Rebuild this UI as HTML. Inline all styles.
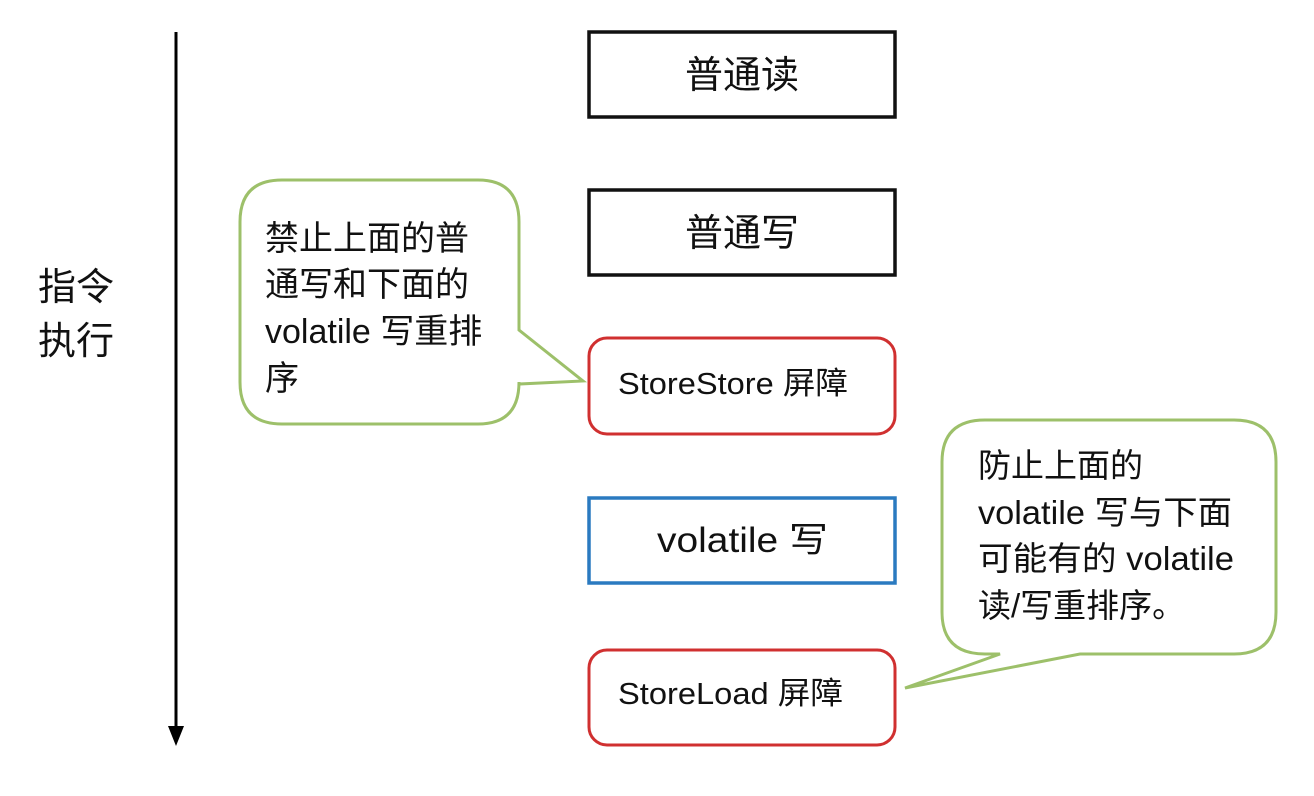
<!DOCTYPE html>
<html><head><meta charset="utf-8"><style>
body{margin:0;background:#fff;}
svg text{font-family:"Liberation Sans","Noto Sans CJK SC",sans-serif;fill:#111;}
</style></head><body>
<svg width="1314" height="791" xmlns="http://www.w3.org/2000/svg">
<line x1="176" y1="32" x2="176" y2="728" stroke="#000" stroke-width="3"/>
<polygon points="168,726 184,726 176,746" fill="#000"/>
<text x="38" y="300" font-size="38">指令</text>
<text x="38" y="354" font-size="38">执行</text>

<rect x="589" y="32" width="306" height="85" fill="#fff" stroke="#111" stroke-width="3.5"/>
<text x="742" y="88" font-size="38" text-anchor="middle">普通读</text>
<rect x="589" y="190" width="306" height="85" fill="#fff" stroke="#111" stroke-width="3.5"/>
<text x="742" y="246" font-size="38" text-anchor="middle">普通写</text>
<rect x="589" y="338" width="306" height="96" rx="18" fill="#fff" stroke="#d03030" stroke-width="3"/>
<text x="618" y="394" font-size="31" textLength="230" lengthAdjust="spacingAndGlyphs">StoreStore 屏障</text>
<rect x="589" y="498" width="306" height="85" fill="#fff" stroke="#2a7ac0" stroke-width="3.5"/>
<text x="657" y="552" font-size="35" textLength="171" lengthAdjust="spacingAndGlyphs">volatile 写</text>
<rect x="589" y="650" width="306" height="95" rx="18" fill="#fff" stroke="#d03030" stroke-width="3"/>
<text x="618" y="704" font-size="31" textLength="225" lengthAdjust="spacingAndGlyphs">StoreLoad 屏障</text>

<path d="M282,180 H478 Q519,180 519,222 V330 L583,381 L519,384 V382 Q519,424 478,424 H282 Q240,424 240,382 V222 Q240,180 282,180 Z" fill="#fff" stroke="#9dc06a" stroke-width="3"/>
<text font-size="34"><tspan x="265" y="250">禁止上面的普</tspan><tspan x="265" y="296">通写和下面的</tspan><tspan x="265" y="343">volatile 写重排</tspan><tspan x="265" y="390">序</tspan></text>

<path d="M985,420 H1234 Q1276,420 1276,462 V612 Q1276,654 1234,654 H1080 L905,688 L1000,654 H985 Q942,654 942,612 V462 Q942,420 985,420 Z" fill="#fff" stroke="#9dc06a" stroke-width="3"/>
<text font-size="33"><tspan x="978" y="477">防止上面的</tspan><tspan x="978" y="524" textLength="254" lengthAdjust="spacingAndGlyphs">volatile 写与下面</tspan><tspan x="978" y="570" textLength="256" lengthAdjust="spacingAndGlyphs">可能有的 volatile</tspan><tspan x="978" y="617">读/写重排序。</tspan></text>
</svg>
</body></html>
